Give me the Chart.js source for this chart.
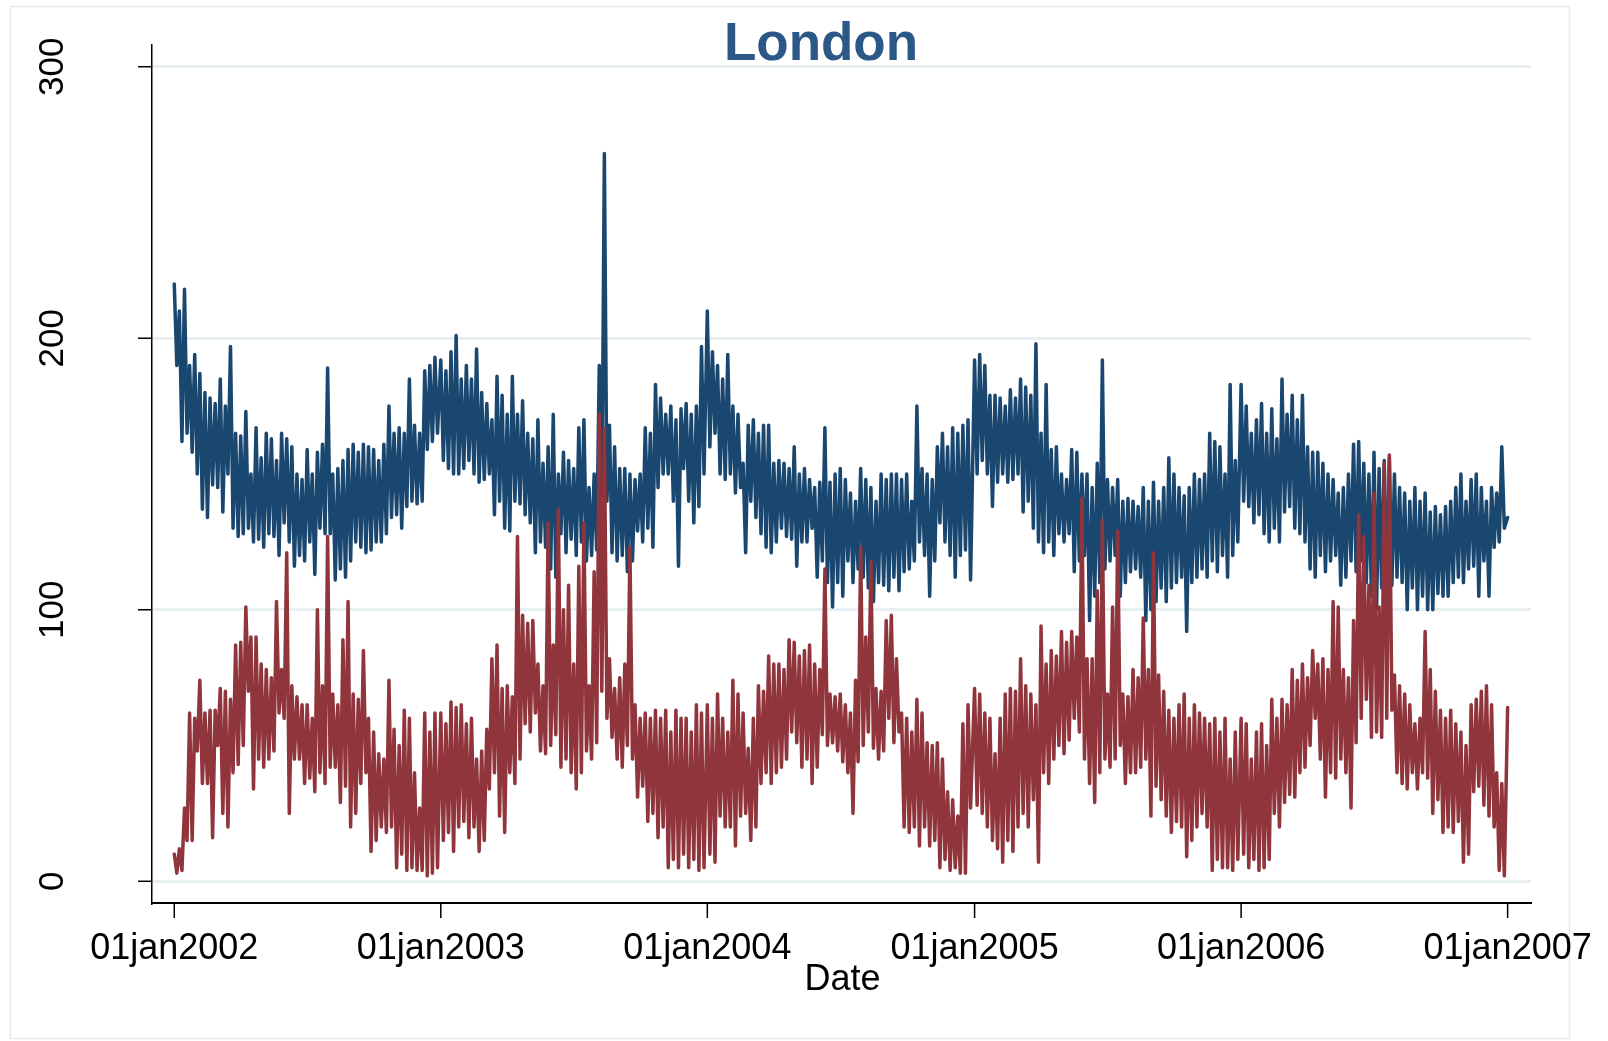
<!DOCTYPE html>
<html>
<head>
<meta charset="utf-8">
<title>London</title>
<script src="https://cdn.jsdelivr.net/npm/chart.js@4.4.1/dist/chart.umd.min.js"></script>
<style>
  html, body { margin: 0; padding: 0; background: #fff; }
  #chart { display: block; }
</style>
</head>
<body>
<canvas id="chart" width="1608" height="1041" style="width:1608px;height:1041px"></canvas>
<script>
// axis labels
const tickLabels = ['01jan2002', '01jan2003', '01jan2004', '01jan2005', '01jan2006', '01jan2007'];
const tickYears = [2002, 2003, 2004, 2005, 2006, 2007];
const yTicks = [0, 100, 200, 300];

// weekly readings, (high, low) pairs per week
const blue2002 = [220,190, 210,162, 218,165, 190,158, 194,150, 187,137, 180,134, 178,146, 176,145, 185,136, 175,150, 197,130, 165,127, 164,128, 173,130, 150,125, 167,126, 156,123, 165,128, 163,127, 155,120, 165,132, 163,125, 160,116, 150,120, 148,118, 159,125, 150,113, 158,130, 161,128, 189,128, 150,111, 152,115, 155,112, 159,118, 161,125, 158,123, 161,121, 160,122, 159,125, 155,125, 161,128, 175,134, 165,135, 167,130, 165,138, 185,140, 168,139, 165,140, 188,159, 190,162, 193,165];
const blue2003 = [192,155, 188,152, 195,150, 201,150, 185,152, 190,155, 185,150, 196,147, 180,148, 176,150, 170,135, 186,140, 179,130, 172,129, 186,140, 172,139, 177,135, 165,132, 163,121, 170,125, 154,123, 160,115, 172,112, 150,128, 158,121, 155,126, 152,120, 167,125, 170,118, 145,120, 150,122, 190,135, 268,140, 168,121, 160,118, 152,120, 152,114, 150,118, 148,129, 150,125, 167,130, 165,123, 183,145, 178,150, 172,150, 175,140, 170,116, 174,152, 176,140, 172,132, 175,138, 197,150];
const blue2004 = [210,160, 195,165, 190,150, 185,148, 194,150, 175,143, 172,145, 154,121, 168,140, 170,134, 165,128, 168,123, 168,121, 154,125, 155,130, 154,127, 152,126, 160,116, 150,125, 152,125, 148,130, 145,112, 147,118, 167,110, 147,101, 150,110, 152,105, 148,118, 143,110, 140,115, 152,112, 148,108, 145,103, 140,110, 150,109, 148,107, 150,112, 150,107, 148,114, 150,115, 140,118, 175,125, 152,120, 150,105, 148,118, 160,132, 165,125, 160,120, 167,112, 165,120, 168,122, 170,111];
const blue2005 = [192,150, 194,155, 190,150, 179,138, 179,147, 178,150, 175,147, 181,148, 178,150, 185,136, 182,140, 179,130, 198,125, 165,121, 183,125, 159,120, 160,128, 150,125, 148,128, 159,114, 158,118, 150,120, 150,96, 145,105, 154,110, 192,115, 148,118, 145,120, 148,105, 140,110, 141,114, 140,115, 138,112, 145,96, 140,100, 147,103, 140,108, 145,103, 156,108, 150,110, 145,112, 142,92, 145,110, 150,112, 148,115, 150,112, 165,118, 162,114, 160,120, 150,112, 183,120, 155,125];
const blue2006 = [183,140, 175,138, 165,132, 170,135, 176,128, 165,125, 174,130, 163,125, 185,136, 172,138, 179,130, 170,128, 179,125, 160,115, 158,112, 158,120, 154,114, 150,118, 148,120, 143,109, 145,112, 150,118, 161,114, 162,118, 154,110, 150,105, 158,100, 152,108, 155,104, 156,109, 150,112, 145,110, 143,100, 140,108, 145,100, 140,105, 143,100, 136,100, 138,106, 135,105, 138,105, 140,110, 145,112, 150,110, 140,115, 148,116, 150,105, 145,118, 140,105, 145,123, 143,125, 160,130];
const blueLast = 134;

const red2002 = [10,3, 12,4, 27,15, 62,15, 60,48, 74,36, 62,36, 63,16, 63,50, 71,25, 70,20, 67,40, 87,43, 88,50, 101,70, 90,34, 90,45, 80,42, 78,45, 75,48, 103,62, 78,60, 121,25, 72,45, 68,45, 65,36, 65,38, 60,33, 100,40, 72,36, 127,42, 69,42, 65,29, 89,35, 103,20, 69,25, 67,36, 85,40, 60,11, 55,15, 47,20, 45,18, 74,20, 56,5, 50,10, 63,4, 60,5, 40,4, 27,4, 62,2, 55,3, 62,5];
const red2003 = [62,15, 58,18, 66,11, 64,20, 65,22, 58,16, 60,20, 45,11, 48,15, 56,34, 82,40, 87,24, 71,18, 72,40, 68,36, 127,45, 98,58, 95,55, 96,62, 80,48, 72,47, 132,50, 87,54, 137,42, 100,45, 109,40, 80,34, 116,40, 132,48, 72,45, 114,51, 172,70, 167,60, 82,53, 71,45, 75,42, 80,50, 123,45, 65,31, 60,35, 62,22, 60,25, 63,16, 60,20, 63,5, 55,8, 63,5, 60,10, 60,5, 55,8, 65,4, 62,5];
const red2004 = [65,10, 60,7, 69,24, 60,20, 55,20, 74,13, 69,24, 62,25, 49,15, 60,20, 72,36, 70,40, 83,36, 80,40, 80,42, 78,45, 89,55, 88,51, 83,42, 85,45, 87,36, 80,42, 78,54, 115,50, 69,51, 68,48, 69,44, 65,40, 62,25, 74,44, 123,50, 90,55, 118,49, 71,45, 70,48, 96,60, 98,51, 82,55, 62,20, 60,18, 55,20, 67,13, 62,20, 51,13, 50,15, 51,5, 45,8, 33,4, 30,5, 24,3, 58,3, 65,27];
const red2005 = [71,28, 69,25, 62,20, 60,15, 47,12, 60,7, 69,15, 71,11, 70,20, 82,25, 72,20, 69,30, 65,7, 94,40, 80,36, 85,45, 83,50, 92,47, 88,52, 92,60, 90,55, 141,45, 82,36, 82,29, 107,40, 133,45, 69,42, 101,45, 129,50, 69,36, 68,40, 78,40, 75,42, 97,45, 78,24, 121,35, 76,30, 70,24, 63,18, 60,22, 65,20, 69,9, 60,15, 65,20, 62,25, 60,20, 58,4, 60,8, 55,5, 60,5, 45,4, 55,8];
const red2006 = [60,10, 58,5, 45,8, 55,4, 58,5, 50,8, 67,25, 60,20, 67,29, 65,32, 78,31, 74,40, 80,42, 75,50, 85,60, 80,45, 82,31, 78,40, 103,38, 101,45, 78,40, 75,27, 96,51, 135,60, 127,67, 109,53, 143,55, 101,53, 154,60, 157,63, 76,40, 72,36, 69,34, 65,40, 58,34, 60,40, 92,38, 78,25, 70,30, 63,18, 60,20, 63,18, 58,22, 55,7, 50,10, 65,33, 67,35, 70,28, 72,24, 65,20, 40,4, 36,2];
const redLast = 64;

const DAY = 864e5;
const dayOf = (y) => (Date.UTC(y, 0, 1) - Date.UTC(2002, 0, 1)) / DAY;

// turn (high, low) week pairs into day-indexed points
function weekly(year, pairs) {
  const start = dayOf(year);
  const pts = [];
  for (let k = 0; k < pairs.length / 2; k++) {
    pts.push({ x: start + 7 * k, y: pairs[2 * k] });
    pts.push({ x: start + 7 * k + 3.5, y: pairs[2 * k + 1] });
  }
  return pts;
}

const bluePoints = [
  ...weekly(2002, blue2002), ...weekly(2003, blue2003), ...weekly(2004, blue2004),
  ...weekly(2005, blue2005), ...weekly(2006, blue2006), { x: dayOf(2007), y: blueLast }
];
const redPoints = [
  ...weekly(2002, red2002), ...weekly(2003, red2003), ...weekly(2004, red2004),
  ...weekly(2005, red2005), ...weekly(2006, red2006), { x: dayOf(2007), y: redLast }
];
const tickDays = tickYears.map(dayOf);

const FONT = '"Liberation Sans", Arial, Helvetica, sans-serif';

// white page + faint outer frame
const framePlugin = {
  id: 'frame',
  beforeDraw(chart) {
    const ctx = chart.ctx;
    ctx.save();
    ctx.fillStyle = '#fff';
    ctx.fillRect(0, 0, chart.width, chart.height);
    ctx.strokeStyle = '#e4ecef';
    ctx.lineWidth = 1.5;
    ctx.strokeRect(10.5, 6.5, 1559, 1032);
    ctx.restore();
  }
};

// Stata-style ticks, labels and title
const labelsPlugin = {
  id: 'labels',
  afterDraw(chart) {
    const ctx = chart.ctx;
    const xs = chart.scales.x, ys = chart.scales.y;
    const area = chart.chartArea;
    ctx.save();
    ctx.strokeStyle = '#000';
    ctx.fillStyle = '#000';
    ctx.lineWidth = 1.5;

    // y ticks + rotated labels
    ctx.font = '35px ' + FONT;
    ctx.textAlign = 'center';
    ctx.textBaseline = 'alphabetic';
    yTicks.forEach(v => {
      const py = ys.getPixelForValue(v);
      ctx.beginPath();
      ctx.moveTo(area.left - 14, py);
      ctx.lineTo(area.left, py);
      ctx.stroke();
      ctx.save();
      ctx.translate(63, py);
      ctx.rotate(-Math.PI / 2);
      ctx.fillText(String(v), 0, 0);
      ctx.restore();
    });

    // x ticks + labels
    ctx.font = '36px ' + FONT;
    tickDays.forEach((d, i) => {
      const px = xs.getPixelForValue(d);
      ctx.beginPath();
      ctx.moveTo(px, area.bottom);
      ctx.lineTo(px, area.bottom + 15);
      ctx.stroke();
      ctx.fillText(tickLabels[i], px, 959);
    });

    ctx.font = '36px ' + FONT;
    ctx.fillText('Date', (area.left + area.right) / 2 + 1, 990);

    ctx.font = 'bold 53px ' + FONT;
    ctx.fillStyle = '#2c5887';
    ctx.fillText('London', 821, 60);
    ctx.restore();
  }
};

new Chart(document.getElementById('chart'), {
  type: 'line',
  data: {
    datasets: [
      {
        label: 'red',
        data: redPoints,
        borderColor: '#90353b',
        borderWidth: 3.5,
        borderJoinStyle: 'round',
        borderCapStyle: 'round',
        pointRadius: 0,
        tension: 0,
        order: 0
      },
      {
        label: 'blue',
        data: bluePoints,
        borderColor: '#1a476f',
        borderWidth: 3.5,
        borderJoinStyle: 'round',
        borderCapStyle: 'round',
        pointRadius: 0,
        tension: 0,
        order: 1
      }
    ]
  },
  options: {
    responsive: false,
    devicePixelRatio: 1,
    animation: false,
    layout: { padding: { left: 152, right: 77, top: 45, bottom: 138 } },
    plugins: {
      legend: { display: false },
      tooltip: { enabled: false },
      title: { display: false }
    },
    scales: {
      x: {
        type: 'linear',
        min: -30.5,
        max: 1858,
        afterBuildTicks: (s) => { s.ticks = tickDays.map(v => ({ value: v })); },
        afterFit: (s) => { s.height = 0; },
        ticks: { display: false },
        grid: { display: false, drawTicks: false },
        border: { display: true, color: '#000', width: 2 }
      },
      y: {
        type: 'linear',
        min: -8,
        max: 308,
        afterBuildTicks: (s) => { s.ticks = yTicks.map(v => ({ value: v })); },
        afterFit: (s) => { s.width = 0; },
        ticks: { display: false },
        grid: { color: '#e8eff2', lineWidth: 3, drawTicks: false },
        border: { display: true, color: '#000', width: 1.5 }
      }
    }
  },
  plugins: [framePlugin, labelsPlugin]
});
</script>
</body>
</html>
